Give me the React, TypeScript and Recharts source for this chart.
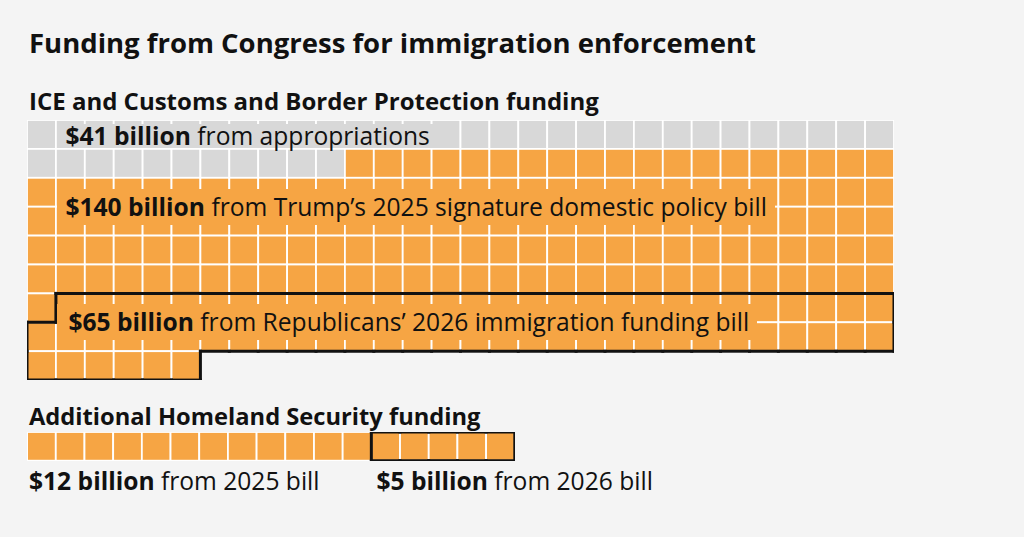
import { ScatterChart, Scatter, XAxis, YAxis } from "recharts"

// top waffle: ICE + CBP, one square = $1 billion
const iceGroups = ["appropriations", "2025 bill", "2026 bill"]
const iceValues = [41, 140, 65]
const iceBold = ["$41 billion", "$140 billion", "$65 billion"]
const iceRest = [
  "from appropriations",
  "from Trump\u2019s 2025 signature domestic policy bill",
  "from Republicans\u2019 2026 immigration funding bill",
]

// bottom waffle: additional DHS
const dhsGroups = ["2025 bill", "2026 bill"]
const dhsValues = [12, 5]
const dhsBold = ["$12 billion", "$5 billion"]
const dhsRest = ["from 2025 bill", "from 2026 bill"]

const COLS = 30
const BG = "#f4f4f4"
const ORANGE = "#f6a544"
const GRAY = "#d8d8d8"
const FONT = "'Open Sans', Roboto, sans-serif"
const LABEL_SIZE = 24.6

const groupColor: Record<string, string> = {
  appropriations: GRAY,
  "2025 bill": ORANGE,
  "2026 bill": ORANGE,
}

const GRID_LEFT = 27
const GRID_TOP = 120
const CELL = 28.9
const DHS_TOP = 432
const DHS_CELL = 28.7

interface Cell {
  x: number
  y: number
  col: number
  row: number
  group: string
}

function buildCells(groups: string[], values: number[], cols: number): Cell[] {
  const out: Cell[] = []
  let idx = 0
  groups.forEach((g, gi) => {
    for (let i = 0; i < values[gi]; i++) {
      const col = idx % cols
      const row = Math.floor(idx / cols)
      out.push({ x: col + 0.5, y: row + 0.5, col, row, group: g })
      idx++
    }
  })
  return out
}

const iceCells = buildCells(iceGroups, iceValues, COLS)
const iceRows = Math.ceil(iceCells.length / COLS)
const dhsCells = buildCells(dhsGroups, dhsValues, dhsValues[0] + dhsValues[1])
const dhsCols = dhsCells.length

function cellShape(cw: number, ch: number) {
  return (props: any) => {
    const { cx, cy, payload } = props
    return (
      <rect
        x={cx - cw / 2}
        y={cy - ch / 2}
        width={cw}
        height={ch}
        fill={groupColor[payload.group]}
        stroke="#ffffff"
        strokeWidth={1.8}
      />
    )
  }
}

// black border round the 2026 squares
function outlineShape(cells: Cell[], group: string, cw: number, ch: number) {
  const key = new Set(cells.filter((c) => c.group === group).map((c) => c.col + ":" + c.row))
  const has = (c: number, r: number) => key.has(c + ":" + r)
  return (props: any) => {
    const { cx, cy, payload } = props
    const x0 = cx - cw / 2
    const y0 = cy - ch / 2
    const x1 = x0 + cw
    const y1 = y0 + ch
    const { col, row } = payload
    const segs: number[][] = []
    if (!has(col, row - 1)) segs.push([x0, y0, x1, y0])
    if (!has(col, row + 1)) segs.push([x0, y1, x1, y1])
    if (!has(col - 1, row)) segs.push([x0, y0, x0, y1])
    if (!has(col + 1, row)) segs.push([x1, y0, x1, y1])
    return (
      <g>
        {segs.map((s, i) => (
          <line
            key={i}
            x1={s[0]}
            y1={s[1]}
            x2={s[2]}
            y2={s[3]}
            stroke="#111"
            strokeWidth={3}
            strokeLinecap="square"
          />
        ))}
      </g>
    )
  }
}

function Waffle({ cells, cols, rows, cw, ch }: { cells: Cell[]; cols: number; rows: number; cw: number; ch: number }) {
  return (
    <ScatterChart width={cols * cw} height={rows * ch} margin={{ top: 0, right: 0, bottom: 0, left: 0 }}>
      <XAxis type="number" dataKey="x" domain={[0, cols]} hide />
      <YAxis type="number" dataKey="y" domain={[0, rows]} reversed hide />
      <Scatter data={cells} shape={cellShape(cw, ch)} isAnimationActive={false} />
      <Scatter
        data={cells.filter((c) => c.group === "2026 bill")}
        shape={outlineShape(cells, "2026 bill", cw, ch)}
        isAnimationActive={false}
      />
    </ScatterChart>
  )
}

// where the labels sit, in rows of the top waffle
const labelRow = [0.5, 3, 7]

function Label({ i }: { i: number }) {
  const first = i === 0
  const h = first ? 24 : 36
  const top = first ? GRID_TOP + 4 : GRID_TOP + labelRow[i] * CELL - h / 2
  const left = GRID_LEFT + CELL + 1.5
  return (
    <div
      style={{
        position: "absolute",
        left,
        top,
        height: h,
        lineHeight: h + "px",
        background: groupColor[iceGroups[i]],
        paddingLeft: i === 2 ? 11 : 8,
        paddingRight: 8,
        fontSize: LABEL_SIZE,
        color: "#111",
        whiteSpace: "nowrap",
      }}
    >
      <b>{iceBold[i]}</b> {iceRest[i]}
    </div>
  )
}

export default function App() {
  return (
    <div
      style={{
        position: "absolute",
        left: 0,
        top: 0,
        width: 1024,
        height: 537,
        background: BG,
        fontFamily: FONT,
        color: "#111",
        overflow: "hidden",
      }}
    >
      <div style={{ position: "absolute", left: 29, top: 25, fontSize: 27.5, fontWeight: 700, lineHeight: "36px", whiteSpace: "nowrap" }}>
        Funding from Congress for immigration enforcement
      </div>
      <div style={{ position: "absolute", left: 29, top: 86, fontSize: 24, fontWeight: 700, lineHeight: "30px", whiteSpace: "nowrap" }}>
        ICE and Customs and Border Protection funding
      </div>

      <div style={{ position: "absolute", left: GRID_LEFT, top: GRID_TOP }}>
        <Waffle cells={iceCells} cols={COLS} rows={iceRows} cw={CELL} ch={CELL} />
      </div>
      {iceBold.map((_, i) => (
        <Label key={i} i={i} />
      ))}

      <div style={{ position: "absolute", left: 29, top: 401, fontSize: 23.7, fontWeight: 700, lineHeight: "30px", whiteSpace: "nowrap" }}>
        Additional Homeland Security funding
      </div>
      <div style={{ position: "absolute", left: GRID_LEFT, top: DHS_TOP }}>
        <Waffle cells={dhsCells} cols={dhsCols} rows={1} cw={DHS_CELL} ch={DHS_CELL} />
      </div>
      <div style={{ position: "absolute", left: 29, top: 465, fontSize: LABEL_SIZE, lineHeight: "32px", whiteSpace: "nowrap" }}>
        <b>{dhsBold[0]}</b> {dhsRest[0]}
      </div>
      <div
        style={{
          position: "absolute",
          left: GRID_LEFT + dhsValues[0] * DHS_CELL + 5,
          top: 465,
          fontSize: LABEL_SIZE,
          lineHeight: "32px",
          whiteSpace: "nowrap",
        }}
      >
        <b>{dhsBold[1]}</b> {dhsRest[1]}
      </div>
    </div>
  )
}
